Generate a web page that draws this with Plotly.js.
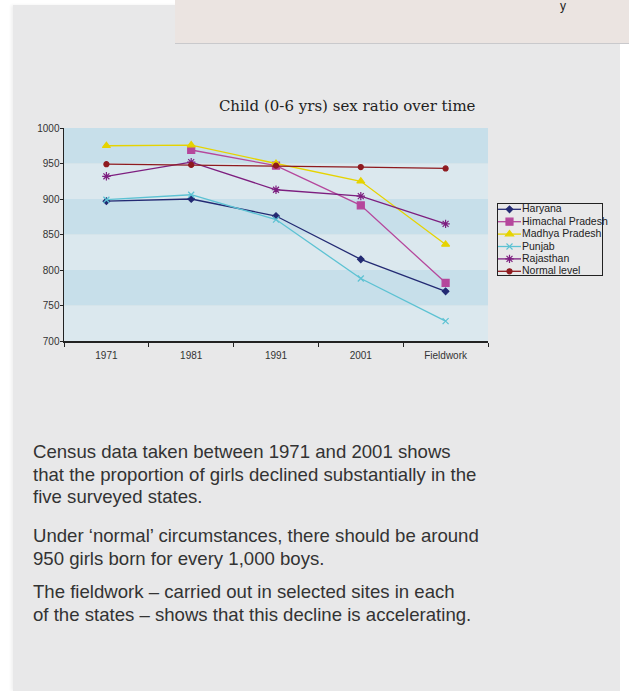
<!DOCTYPE html>
<html>
<head>
<meta charset="utf-8">
<script src="https://cdn.plot.ly/plotly-3.0.1.min.js"></script>
<style>
  html, body { margin:0; padding:0; width:629px; height:691px; background:#ffffff; overflow:hidden; }
  #paper { position:absolute; left:13px; top:5px; width:607px; height:686px; background:#e8e8e9; box-shadow: -2px 0 3px rgba(0,0,0,0.06); }
  #strip { position:absolute; left:175px; top:0px; width:454px; height:43px; background:#ebe4e1; border-bottom:1px solid #c9c9cc; overflow:hidden; }
  #stripy { position:absolute; left:385px; top:0px; font-family:"Liberation Sans", Arial, sans-serif; font-size:12px; line-height:12px; color:#222; }
  #chart { position:absolute; left:0; top:0; width:629px; height:691px; }
  .txt { position:absolute; left:33px; width:500px; font-family:"Liberation Sans", Arial, sans-serif; font-size:18.6px; line-height:22.5px; color:#333; margin:0; }
</style>
</head>
<body>
<div id="paper"></div>
<div id="strip"><span id="stripy">y</span></div>
<div id="chart"></div>
<p class="txt" style="top:441px;">Census data taken between 1971 and 2001 shows<br>that the proportion of girls declined substantially in the<br>five surveyed states.</p>
<p class="txt" style="top:525px;">Under ‘normal’ circumstances, there should be around<br>950 girls born for every 1,000 boys.</p>
<p class="txt" style="top:581px;">The fieldwork – carried out in selected sites in each<br>of the states – shows that this decline is accelerating.</p>
<script>
const categories = ["1971", "1981", "1991", "2001", "Fieldwork"];
const haryana   = [897, 900, 876, 815, 770];
const himachal  = [null, 969, 947, 891, 782];
const madhya    = [975, 976, 950, 925, 836];
const punjab    = [899, 906, 871, 788, 728];
const rajasthan = [932, 952, 913, 904, 865];
const normal    = [949, 948, 947, 945, 943];
const yTicks = [700, 750, 800, 850, 900, 950, 1000];

function tr(name, y, color, symbol, size) {
  return {
    type: 'scatter', mode: 'lines+markers', name: name,
    x: categories, y: y,
    line: { color: color, width: 1.3 },
    marker: { color: color, symbol: symbol, size: size, line: { color: color, width: 1.2 } },
    connectgaps: false
  };
}

const data = [
  tr('Haryana', haryana, '#232a73', 'diamond', 5),
  tr('Himachal Pradesh', himachal, '#b5479c', 'square', 7),
  tr('Madhya Pradesh', madhya, '#e6d300', 'triangle-up', 7),
  tr('Punjab', punjab, '#5cc2d3', 'x-thin-open', 6),
  tr('Rajasthan', rajasthan, '#7d1e7f', 'asterisk-open', 7),
  tr('Normal level', normal, '#8e1a1f', 'circle', 5)
];

const bands = [];
const bandCols = ['#dbe8ee', '#c7dfea', '#dbe8ee', '#c7dfea', '#dbe8ee', '#c7dfea'];
for (let i = 0; i < yTicks.length - 1; i++) {
  bands.push({ type: 'rect', xref: 'paper', yref: 'y', x0: 0, x1: 1, y0: yTicks[i], y1: yTicks[i + 1],
    fillcolor: bandCols[i], line: { width: 0 }, layer: 'below' });
}

const tickFont = { family: 'Liberation Sans, Arial, sans-serif', size: 10, color: '#333' };
const layout = {
  width: 629, height: 691,
  paper_bgcolor: 'rgba(0,0,0,0)', plot_bgcolor: 'rgba(0,0,0,0)',
  margin: { l: 64, r: 141, t: 128, b: 350, pad: 0, autoexpand: false },
  showlegend: true,
  title: { text: 'Child (0-6 yrs) sex ratio over time', x: 0.552, xref: 'container', xanchor: 'center',
    y: 1 - 106 / 691, yref: 'container', yanchor: 'middle',
    font: { family: 'DejaVu Serif, serif', size: 15, color: '#222' } },
  xaxis: { type: 'category', range: [-0.5, 4.5], tickson: 'boundaries', ticks: 'outside', ticklen: 4,
    tickcolor: '#222', showline: true, linecolor: '#222', linewidth: 1.5, showgrid: false, zeroline: false,
    ticklabelstandoff: 4, tickfont: tickFont, fixedrange: true, automargin: false },
  yaxis: { range: [700, 1000], tickvals: yTicks, ticks: 'outside', ticklen: 3, tickcolor: '#222',
    showline: true, linecolor: '#222', linewidth: 1.5, showgrid: false, zeroline: false,
    ticklabelstandoff: -2, tickfont: tickFont, fixedrange: true, automargin: false },
  legend: { x: (497 - 64) / 424, y: 1 - (203 - 128) / 213, xanchor: 'left', yanchor: 'top', bgcolor: 'rgba(0,0,0,0)',
    bordercolor: '#222', borderwidth: 1, tracegroupgap: 0, itemwidth: 30,
    font: { family: 'Liberation Sans, Arial, sans-serif', size: 10.5, color: '#222' } },
  shapes: bands
};

Plotly.newPlot('chart', data, layout, { staticPlot: true, displayModeBar: false }).then(function (gd) {
  // compact the legend to match the reference's tight spacing
  const leg = gd.querySelector('g.legend');
  if (!leg) return;
  const items = leg.querySelectorAll('g.traces');
  const step = 12.4, top = 6.3;
  items.forEach(function (g, i) {
    g.setAttribute('transform', 'translate(0,' + (top + step * i) + ')');
    g.querySelectorAll('.legendlines path').forEach(function (p) { p.setAttribute('d', 'M1,0h23'); });
    g.querySelectorAll('.legendpoints path').forEach(function (p) { p.setAttribute('transform', 'translate(12.5,0)'); });
    g.querySelectorAll('text.legendtext').forEach(function (t) {
      t.setAttribute('x', 25);
      const yy = parseFloat(t.getAttribute('y') || '0');
      t.setAttribute('y', yy - 1);
      t.querySelectorAll('tspan').forEach(function (s) { if (s.hasAttribute('x')) s.setAttribute('x', 25); });
    });
  });
  const bg = leg.querySelector('rect.bg');
  if (bg) { bg.setAttribute('width', 105); bg.setAttribute('height', 72); }
});
</script>
</body>
</html>
